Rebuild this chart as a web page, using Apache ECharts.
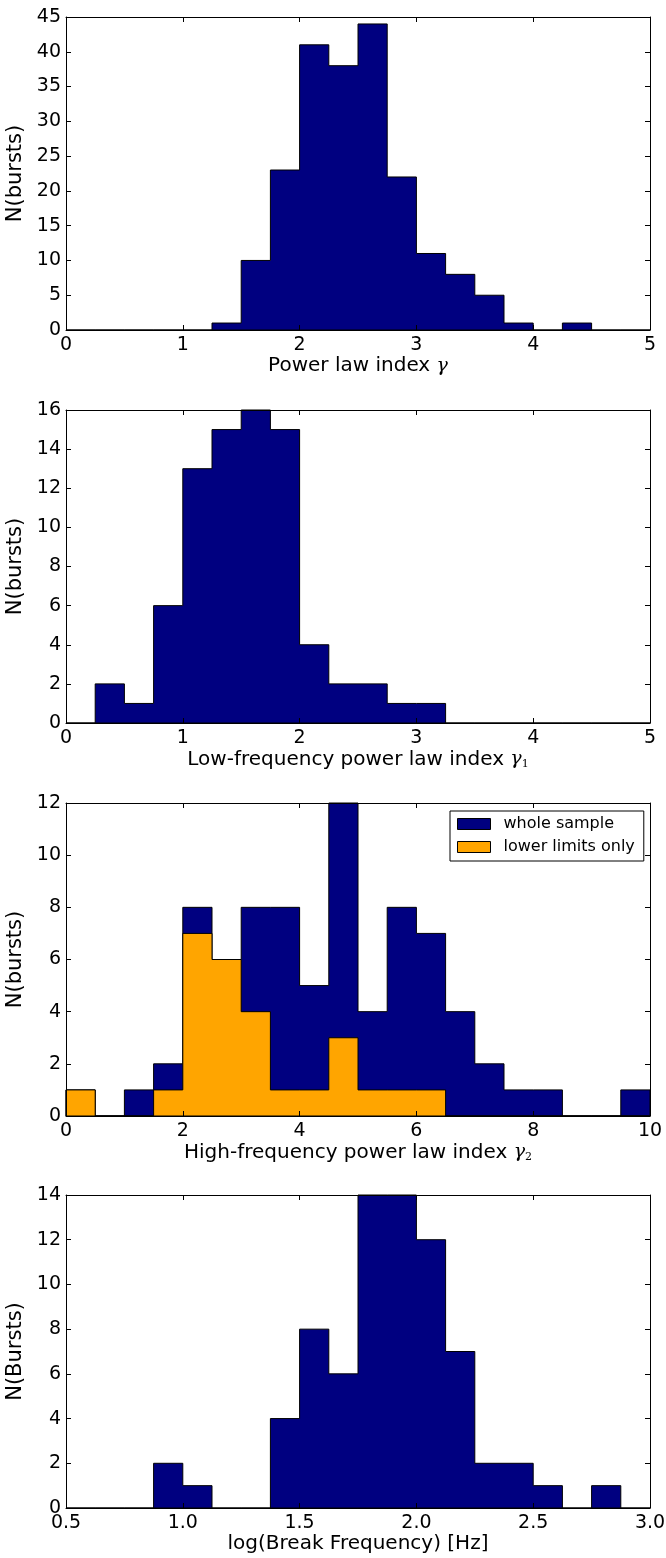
<!DOCTYPE html>
<html>
<head>
<meta charset="utf-8">
<script src="https://cdn.jsdelivr.net/npm/echarts@6/dist/echarts.min.js"></script>
<style>
  html, body { margin: 0; padding: 0; background: #fff; }
  #chart { width: 666px; height: 1558px; }
</style>
</head>
<body>
<div id="chart"></div>
<script>
// histogram bin edges and counts
const gammaEdges = [0, 0.25, 0.5, 0.75, 1, 1.25, 1.5, 1.75, 2, 2.25, 2.5, 2.75, 3, 3.25, 3.5, 3.75, 4, 4.25, 4.5, 4.75, 5];
const gammaCounts = [0, 0, 0, 0, 0, 1, 10, 23, 41, 38, 44, 22, 11, 8, 5, 1, 0, 1, 0, 0];

const gamma1Edges = [0, 0.25, 0.5, 0.75, 1, 1.25, 1.5, 1.75, 2, 2.25, 2.5, 2.75, 3, 3.25, 3.5, 3.75, 4, 4.25, 4.5, 4.75, 5];
const gamma1Counts = [0, 2, 1, 6, 13, 15, 16, 15, 4, 2, 2, 1, 1, 0, 0, 0, 0, 0, 0, 0];

const gamma2Edges = [0, 0.5, 1, 1.5, 2, 2.5, 3, 3.5, 4, 4.5, 5, 5.5, 6, 6.5, 7, 7.5, 8, 8.5, 9, 9.5, 10];
const gamma2Whole = [1, 0, 1, 2, 8, 6, 8, 8, 5, 12, 4, 8, 7, 4, 2, 1, 1, 0, 0, 1];
const gamma2Lower = [1, 0, 0, 1, 7, 6, 4, 1, 1, 3, 1, 1, 1, 0, 0, 0, 0, 0, 0, 0];

const breakEdges = [0.5, 0.625, 0.75, 0.875, 1, 1.125, 1.25, 1.375, 1.5, 1.625, 1.75, 1.875, 2, 2.125, 2.25, 2.375, 2.5, 2.625, 2.75, 2.875, 3];
const breakCounts = [0, 0, 0, 2, 1, 0, 0, 4, 8, 6, 14, 14, 12, 7, 2, 2, 1, 0, 1, 0];

const NAVY = '#000080';
const ORANGE = '#ffa500';

const panels = [
  { top: 17, xMin: 0, xMax: 5, xInt: 1, yMax: 45, yInt: 5, yName: 'N(bursts)',
    xName: 'Power law index {g|γ}', dec: 0 },
  { top: 410, xMin: 0, xMax: 5, xInt: 1, yMax: 16, yInt: 2, yName: 'N(bursts)',
    xName: 'Low-frequency power law index {g|γ}{s|1}', dec: 0 },
  { top: 803, xMin: 0, xMax: 10, xInt: 2, yMax: 12, yInt: 2, yName: 'N(bursts)',
    xName: 'High-frequency power law index {g|γ}{s|2}', dec: 0 },
  { top: 1195, xMin: 0.5, xMax: 3, xInt: 0.5, yMax: 14, yInt: 2, yName: 'N(Bursts)',
    xName: 'log(Break Frequency) [Hz]', dec: 1 }
];

const hists = [
  { panel: 0, name: 'whole sample', edges: gammaEdges, counts: gammaCounts, color: NAVY },
  { panel: 1, name: 'whole sample', edges: gamma1Edges, counts: gamma1Counts, color: NAVY },
  { panel: 2, name: 'whole sample', edges: gamma2Edges, counts: gamma2Whole, color: NAVY },
  { panel: 2, name: 'lower limits only', edges: gamma2Edges, counts: gamma2Lower, color: ORANGE },
  { panel: 3, name: 'whole sample', edges: breakEdges, counts: breakCounts, color: NAVY }
];

const FONT = 'DejaVu Sans';
const grid = [], xAxis = [], yAxis = [], series = [];

panels.forEach(function (p, i) {
  grid.push({ left: 66, right: 16, top: p.top, height: 313, outerBoundsMode: 'none' });
  const base = {
    gridIndex: i, type: 'value', min: p.xMin, max: p.xMax, interval: p.xInt, z: 10,
    axisLine: { show: true, onZero: false, lineStyle: { color: '#000', width: 1 } },
    axisTick: { show: true, inside: true, length: 5, lineStyle: { color: '#000' } },
    splitLine: { show: false }
  };
  xAxis.push(Object.assign({}, base, {
    position: 'bottom',
    name: p.xName, nameLocation: 'middle', nameGap: 26,
    nameTextStyle: {
      fontFamily: FONT, fontSize: 20, color: '#000',
      rich: {
        g: { fontFamily: 'DejaVu Serif', fontStyle: 'italic', fontSize: 19, color: '#000' },
        s: { fontFamily: 'DejaVu Serif', fontSize: 11, color: '#000', padding: [10, 0, 0, 0] }
      }
    },
    axisLabel: { show: true, margin: 6, fontFamily: FONT, fontSize: 19, color: '#000',
      formatter: function (v) { return v.toFixed(p.dec); } }
  }));
  xAxis.push(Object.assign({}, base, { position: 'top', axisLabel: { show: false } }));
  const ybase = {
    gridIndex: i, type: 'value', min: 0, max: p.yMax, interval: p.yInt, z: 10,
    axisLine: { show: true, onZero: false, lineStyle: { color: '#000', width: 1 } },
    axisTick: { show: true, inside: true, length: 5, lineStyle: { color: '#000' } },
    splitLine: { show: false }
  };
  yAxis.push(Object.assign({}, ybase, {
    position: 'left',
    name: p.yName, nameLocation: 'middle', nameGap: 37, nameRotate: 90,
    nameTextStyle: { fontFamily: FONT, fontSize: 21, color: '#000' },
    axisLabel: { show: true, margin: 5, fontFamily: FONT, fontSize: 19, color: '#000' }
  }));
  yAxis.push(Object.assign({}, ybase, { position: 'right', axisLabel: { show: false } }));
});

hists.forEach(function (h) {
  series.push({
    type: 'custom',
    name: h.name,
    xAxisIndex: h.panel * 2,
    yAxisIndex: h.panel * 2,
    itemStyle: { color: h.color, borderColor: '#000', borderWidth: 1 },
    data: [[h.edges[0], 0]],
    z: 2,
    silent: true,
    renderItem: function (params, api) {
      const pts = [api.coord([h.edges[0], 0])];
      for (let k = 0; k < h.counts.length; k++) {
        pts.push(api.coord([h.edges[k], h.counts[k]]));
        pts.push(api.coord([h.edges[k + 1], h.counts[k]]));
      }
      pts.push(api.coord([h.edges[h.edges.length - 1], 0]));
      return {
        type: 'polygon',
        shape: { points: pts },
        style: { fill: h.color, stroke: '#000', lineWidth: 1 }
      };
    }
  });
});

const chart = echarts.init(document.getElementById('chart'));
chart.setOption({
  animation: false,
  backgroundColor: '#fff',
  grid: grid,
  xAxis: xAxis,
  yAxis: yAxis,
  legend: {
    orient: 'vertical',
    left: 450, top: 811,
    padding: [5, 9, 6, 7],
    itemGap: 7,
    itemWidth: 33, itemHeight: 11,
    icon: 'rect',
    borderColor: '#000', borderWidth: 1, borderRadius: 0,
    selectedMode: false,
    data: [
      { name: 'whole sample', itemStyle: { color: NAVY, borderColor: '#000', borderWidth: 1 } },
      { name: 'lower limits only', itemStyle: { color: ORANGE, borderColor: '#000', borderWidth: 1 } }
    ],
    textStyle: { fontFamily: FONT, fontSize: 16, color: '#000', lineHeight: 16, padding: [0, 0, 0, 8] }
  },
  series: series
});
</script>
</body>
</html>
